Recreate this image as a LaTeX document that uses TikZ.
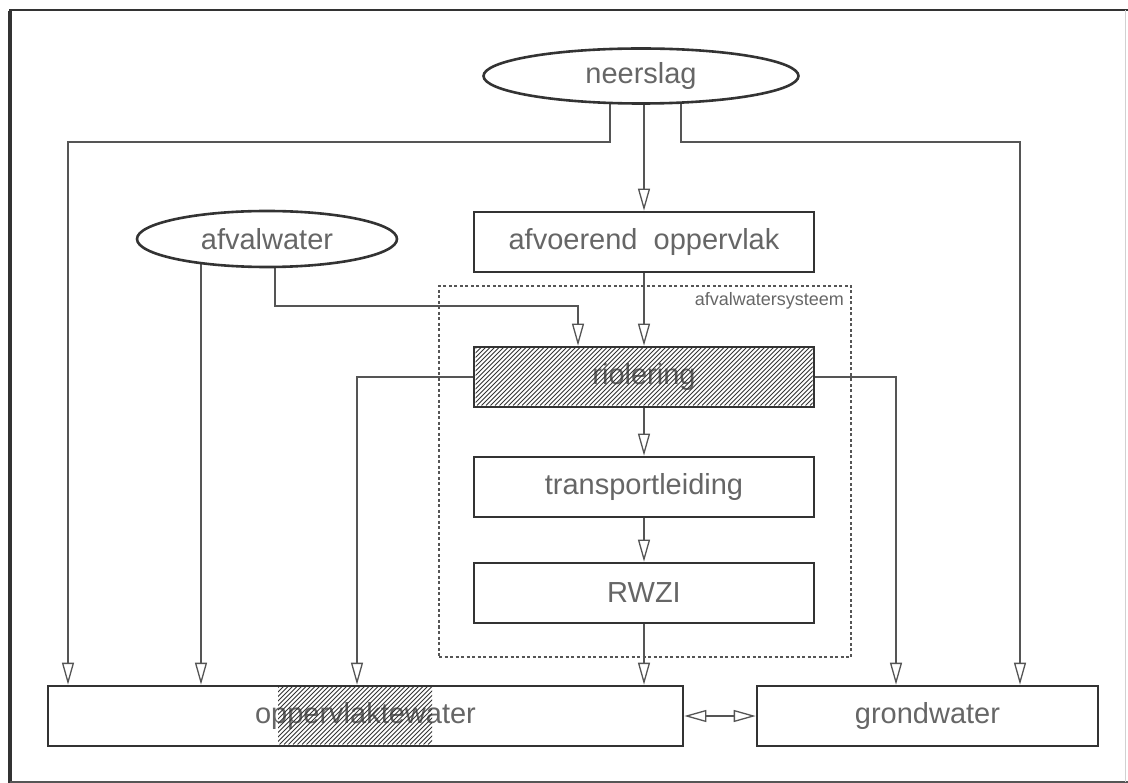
\documentclass[tikz,border=0pt]{standalone}
\usepackage{fontspec}
\setmainfont{Liberation Sans}
\usetikzlibrary{shapes.geometric,arrows.meta}

\definecolor{ink}{HTML}{333333}
\definecolor{wire}{HTML}{555555}
\definecolor{label}{HTML}{666666}

\pgfdeclarelayer{back}
\pgfsetlayers{back,main}

% diagonal hatching clipped to a rectangle
\newcommand\hatcharea[4]{%
  \begin{scope}
    \clip (#1,#2) rectangle (#3,#4);
    \foreach \k in {-75,-70.5,...,350}
      \draw[hatchline] (#1+\k,#4) -- ++(75,-75);
  \end{scope}}

\tikzset{
  txt/.style={text=label, font=\fontsize{29}{34}\selectfont},
  unit/.style={txt, draw=ink, line width=2.6pt, fill=white,
    minimum width=340pt, minimum height=60pt, inner sep=0pt},
  source/.style={txt, ellipse, draw=ink, line width=2.6pt, fill=white, inner sep=0pt},
  flow/.style={draw=wire, line width=1.3pt, -{Triangle[length=22pt, width=12pt, fill=white]}},
  both/.style={draw=wire, line width=1.3pt,
    {Triangle[length=22pt, width=12pt, fill=white]}-{Triangle[length=22pt, width=12pt, fill=white]}},
  hatchline/.style={draw=ink, line width=0.8pt},
  sysbox/.style={draw=wire, line width=1.2pt, dash pattern=on 3pt off 2.5pt,
    minimum width=412pt, minimum height=371pt, inner sep=0pt},
}

\begin{document}
\begin{tikzpicture}[x=1pt, y=-1pt]
\useasboundingbox (0,0) rectangle (1128,783);

% frame
\draw[ink, line width=4pt] (10,11) -- (10,783);
\draw[ink, line width=2pt] (9,10) -- (1128,10);
\draw[wire, line width=1.6pt] (10,782) -- (1128,782);
\draw[black!18, line width=0.8pt] (1125,10) -- (1125,782);

% sources
\node[source, minimum width=315pt, minimum height=55pt] (neerslag) at (641,76) {neerslag};
\node[source, minimum width=260pt, minimum height=56pt] (afval) at (267,239) {afvalwater};

% chain of units
\node[unit] (afvoer) at (644,242) {afvoerend\ \ oppervlak};
\node[unit] (riool) at (644,377) {riolering};
\node[unit] (transport) at (644,487) {transportleiding};
\node[unit] (rwzi) at (644,593) {RWZI};

% receiving waters
\node[unit, minimum width=635pt] (opp) at (365.5,716) {oppervlaktewater};
\node[unit, minimum width=341pt] (grond) at (927.5,716) {grondwater};

% hatched parts, laid over the lettering
\hatcharea{475.5}{348.5}{812.5}{405.5}
\hatcharea{278}{687.5}{432}{744.5}

% waste water system
\node[sysbox] (system) at (645,471.5) {};
\node[anchor=north east, inner sep=0pt, text=label, font=\fontsize{18}{21}\selectfont]
  (sysname) at (844,292) {afvalwatersysteem};

% routing points
\coordinate (nL) at (610,142);
\coordinate (nLb) at (68,142);
\coordinate (nR) at (681,142);
\coordinate (nRb) at (1020,142);
\coordinate (aStem) at (201,239);
\coordinate (aBend) at (275,306);
\coordinate (aIn) at (578,306);
\coordinate (rL) at (357,0);
\coordinate (rR) at (896,0);

\begin{pgfonlayer}{back}
  \draw[flow] (nL |- neerslag.center) -- (nL) -- (nLb) -- (nLb |- opp.north);
  \draw[flow] (afvoer.north |- neerslag.center) -- (afvoer.north);
  \draw[flow] (nR |- neerslag.center) -- (nR) -- (nRb) -- (nRb |- grond.north);
  \draw[flow] (aStem) -- (aStem |- opp.north);
  \draw[flow] (aBend |- afval.center) -- (aBend) -- (aIn) -- (aIn |- riool.north);
  \draw[flow] (afvoer.south) -- (riool.north);
  \draw[flow] (riool.south) -- (transport.north);
  \draw[flow] (transport.south) -- (rwzi.north);
  \draw[flow] (rwzi.south) -- (rwzi.south |- opp.north);
  \draw[flow] (riool.west) -- (rL |- riool.west) -- (rL |- opp.north);
  \draw[flow] (riool.east) -- (rR |- riool.east) -- (rR |- grond.north);
\end{pgfonlayer}
\draw[both] (opp.east) -- (grond.west);
\end{tikzpicture}
\end{document}
